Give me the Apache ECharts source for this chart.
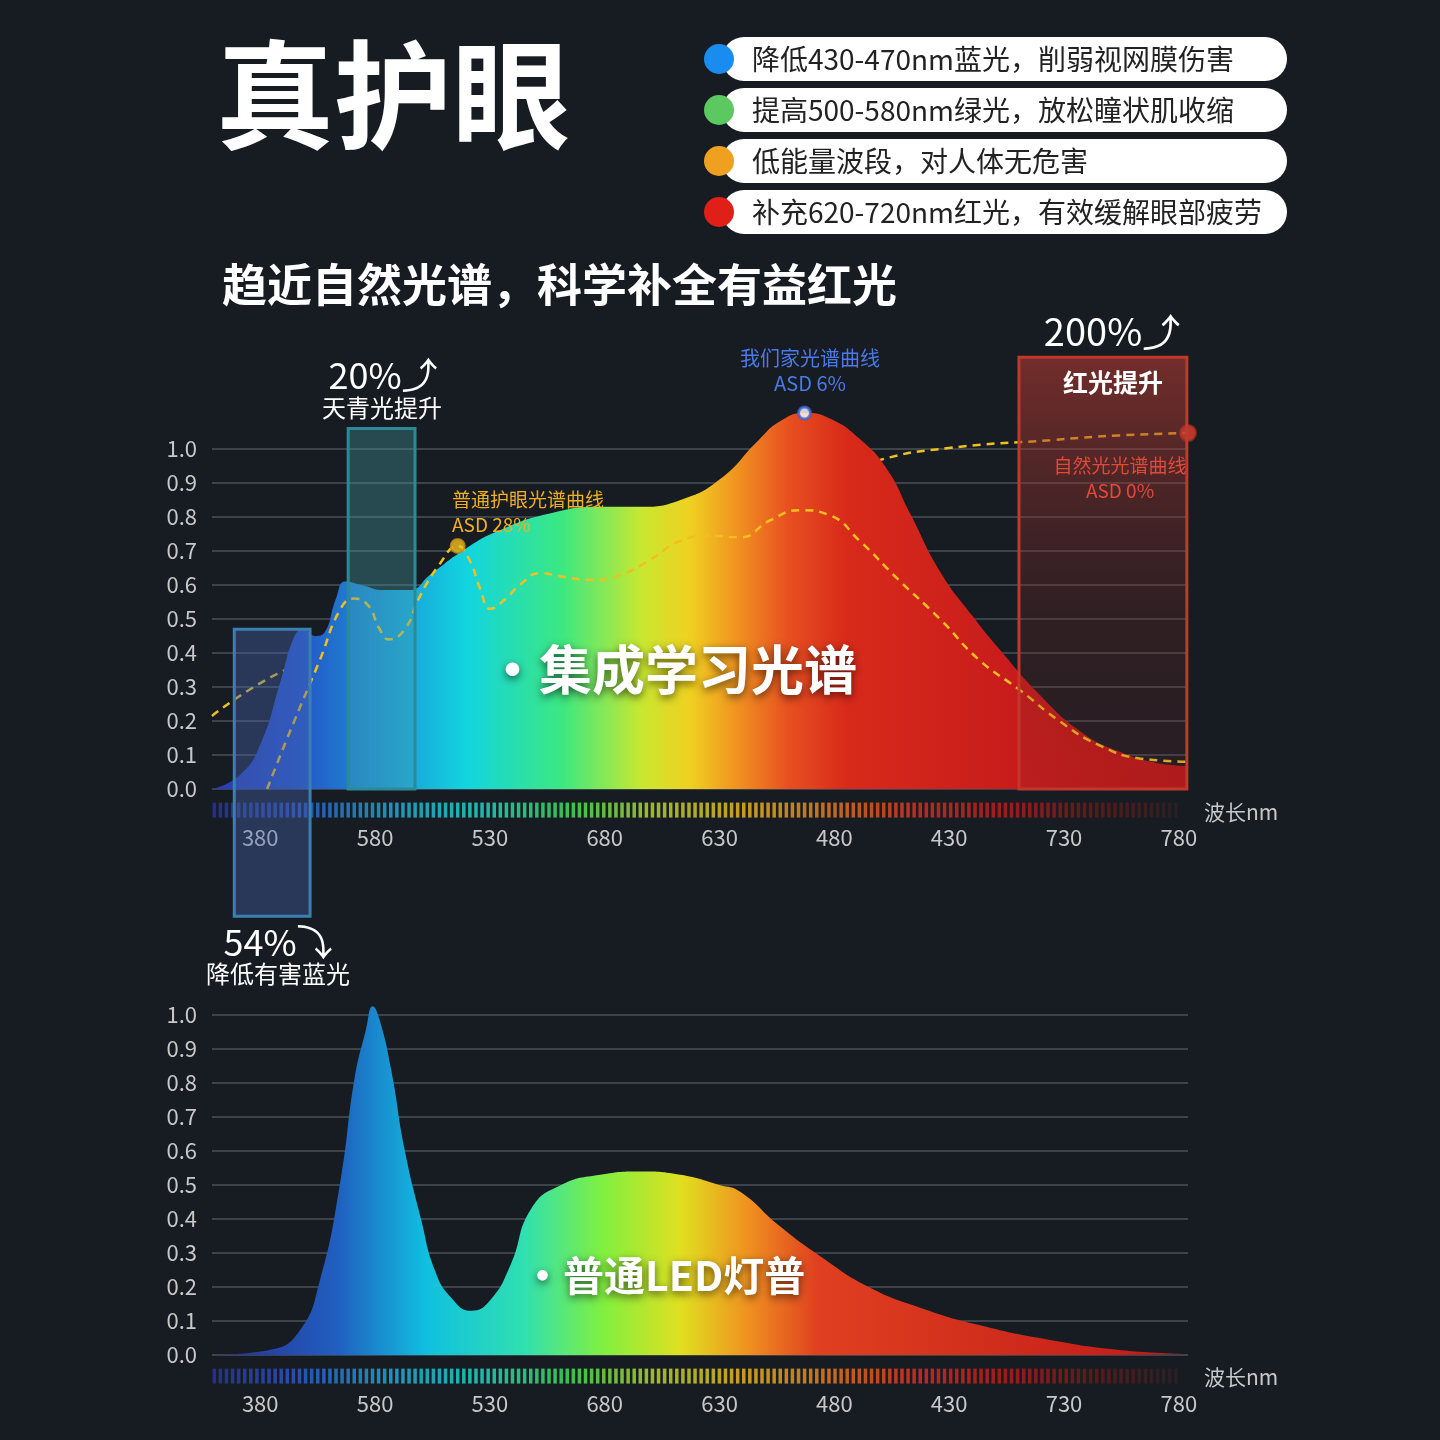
<!DOCTYPE html>
<html><head><meta charset="utf-8">
<script src="https://cdn.jsdelivr.net/npm/echarts@6/dist/echarts.min.js"></script>
<style>html,body{margin:0;background:#171c22}#c{width:1440px;height:1440px}</style>
</head><body><div id="c"></div>
<script>
// 刻度文字(图上的原样)
var tickValues = [380, 430, 480, 530, 580, 630, 680, 730, 780];
var tickLabels = ['380', '580', '530', '680', '630', '480', '430', '730', '780'];

// 我们家光谱曲线
var ourSpectrum = [[359,0],[371,0.04],[380,0.13],[389,0.32],[395,0.45],[399,0.47],[404,0.45],[408,0.46],[413,0.56],[417,0.61],
  [424,0.60],[434,0.585],[445,0.585],[454,0.63],[468,0.70],[484,0.76],[506,0.81],[528,0.83],[546,0.83],[563,0.85],[580,0.91],
  [597,1.026],[606,1.08],[617,1.106],[628,1.09],[641,1.03],[653,0.94],[663,0.81],[676,0.64],[690,0.51],[702,0.41],[719,0.28],
  [737,0.17],[754,0.11],[771,0.076],[784,0.068]];
// 普通护眼光谱曲线
var normalSpectrum = [[383,0],[393,0.17],[406,0.38],[415,0.53],[421,0.56],[427,0.54],[432,0.47],[436,0.44],[443,0.47],[449,0.56],
  [458,0.66],[466,0.715],[471,0.675],[476,0.585],[480,0.53],[487,0.56],[493,0.60],[502,0.635],[511,0.625],[524,0.615],[537,0.63],
  [550,0.675],[563,0.73],[576,0.745],[589,0.74],[602,0.79],[615,0.82],[628,0.805],[641,0.73],[658,0.615],[676,0.50],[693,0.38],
  [711,0.29],[728,0.20],[745,0.13],[763,0.09],[784,0.08]];
// 自然光光谱曲线
var naturalSpectrum = [[359,0.215],[389,0.344],[430,0.45],[480,0.6],[580,0.82],[650,0.968],[680,1.003],[724,1.026],[754,1.04],[784,1.047]];
// 普通LED灯谱
var ledSpectrum = [[359,0],[384,0.015],[397,0.07],[406,0.22],[415,0.515],[421,0.81],[426,0.956],[429,1.026],[432,0.985],[437,0.84],
  [443,0.6],[450,0.4],[456,0.25],[463,0.17],[472,0.13],[480,0.16],[489,0.265],[498,0.43],[511,0.5],[528,0.53],[546,0.54],[563,0.53],
  [580,0.5],[589,0.48],[606,0.38],[624,0.29],[645,0.2],[667,0.14],[693,0.088],[724,0.044],[754,0.015],[784,0.003]];
var ourPeak = [[617,1.106]], normalPeak = [[466,0.715]], naturalEnd = [[784,1.047]];

var legendTexts = ['降低430-470nm蓝光，削弱视网膜伤害', '提高500-580nm绿光，放松瞳状肌收缩', '低能量波段，对人体无危害', '补充620-720nm红光，有效缓解眼部疲劳'];
var legendColors = ['#1a8cf0', '#5cc860', '#f0a020', '#e02018'];

// 色带刻度
var strip = [];
for (var s = 360; s <= 781; s += 2.65) strip.push([s, -0.062]);

var font = '"Noto Sans CJK SC","Noto Sans",sans-serif';
var chart = echarts.init(document.getElementById('c'));

function grad(stops) {
  return new echarts.graphic.LinearGradient(0, 0, 1, 0, stops.map(function (s) { return { offset: s[0], color: s[1] }; }));
}
var topGrad = grad([[0,'#2b3bb0'],[0.09,'#2456c8'],[0.19,'#1a9ed8'],[0.26,'#12d4e0'],[0.36,'#3de880'],[0.44,'#c8e830'],[0.49,'#f0d020'],
  [0.54,'#f09020'],[0.59,'#e85020'],[0.65,'#d82a1a'],[0.82,'#c81c1c'],[1,'#b81818']]);
var botGrad = grad([[0,'#2a2a90'],[0.13,'#2060c0'],[0.22,'#10c0e0'],[0.32,'#30e0b0'],[0.40,'#80f040'],[0.48,'#e0e020'],
  [0.55,'#f09020'],[0.62,'#e04020'],[1,'#c01818']]);

function xAx(i) {
  return { type: 'value', gridIndex: i, min: 359, max: 784,
    axisLine: { show: false }, axisTick: { show: false }, splitLine: { show: false },
    axisLabel: { customValues: tickValues, color: '#c8c8c8', fontSize: 22, margin: 38, fontFamily: font,
      formatter: function (v) { return tickLabels[tickValues.indexOf(v)]; } } };
}
function yAx(i) {
  return { type: 'value', gridIndex: i, min: 0, max: 1, interval: 0.1,
    axisLine: { show: false }, axisTick: { show: false },
    splitLine: { lineStyle: { color: '#4a5058', width: 1.5 } },
    axisLabel: { color: '#c8c8c8', fontSize: 22, margin: 15, fontFamily: font, formatter: function (v) { return v.toFixed(1); } } };
}

var option = {
  backgroundColor: '#171c22',
  animation: false,
  grid: [{ left: 212, right: 252, top: 449, height: 340 }, { left: 212, right: 252, top: 1015, height: 340 }],
  xAxis: [xAx(0), xAx(1)],
  yAxis: [yAx(0), yAx(1)],
  visualMap: [{ show: false, type: 'continuous', seriesIndex: [6, 7], dimension: 0, min: 360, max: 781,
    inRange: { color: ['#2a35a0','#2f5fd0','#20b0e0','#20e0d0','#40e860','#c0e030','#f0c020','#f08020','#e03020','#c01c1c','#6a1a1a','#2a2226'] } }],
  series: [
    { type: 'line', data: naturalSpectrum, smooth: true, symbol: 'none', z: 1, clip: false,
      lineStyle: { color: '#f0c020', width: 2.5, type: [8, 6] } },
    { type: 'line', data: ourSpectrum, smooth: true, symbol: 'none', z: 2, clip: false,
      lineStyle: { width: 0 }, areaStyle: { color: topGrad, opacity: 1 } },
    { type: 'line', data: normalSpectrum, smooth: true, symbol: 'none', z: 3, clip: false,
      lineStyle: { color: '#f0c020', width: 2.5, type: [8, 6] } },
    { type: 'scatter', data: ourPeak, symbolSize: 12, z: 5, clip: false, itemStyle: { color: '#fff', borderColor: '#3a62d8', borderWidth: 3 } },
    { type: 'scatter', data: normalPeak, symbolSize: 14, z: 5, itemStyle: { color: '#f0c020', borderColor: '#c89010', borderWidth: 2 } },
    { type: 'scatter', data: naturalEnd, symbolSize: 16, z: 5, clip: false, itemStyle: { color: '#e04030', borderColor: '#a02818', borderWidth: 2 } },
    { type: 'scatter', data: strip, symbol: 'rect', symbolSize: [3.5, 15], clip: false, z: 1 },
    { type: 'scatter', xAxisIndex: 1, yAxisIndex: 1, data: strip, symbol: 'rect', symbolSize: [3.5, 15], clip: false, z: 1 },
    { type: 'line', xAxisIndex: 1, yAxisIndex: 1, data: ledSpectrum, smooth: true, symbol: 'none', clip: false,
      lineStyle: { width: 0 }, areaStyle: { color: botGrad, opacity: 1 } }
  ]
};
chart.setOption(option);

function px(g, x, y) { return chart.convertToPixel({ gridIndex: g }, [x, y]); }
function box(x0, x1, y0, y1, fill, stroke) {
  var a = px(0, x0, y1), b = px(0, x1, y0);
  return { type: 'rect', z: 20, shape: { x: a[0], y: a[1], width: b[0] - a[0], height: b[1] - a[1] },
    style: { fill: fill, stroke: stroke, lineWidth: 3 } };
}
function txt(x, y, t, size, color, opt) {
  opt = opt || {};
  return { type: 'text', z: 30, x: x, y: y, style: { text: t, fontSize: size, fill: color, fontFamily: font,
    fontWeight: opt.bold ? 'bold' : 'normal', textAlign: opt.align || 'left', textVerticalAlign: 'middle',
    textShadowColor: opt.shadow ? 'rgba(0,0,0,0.6)' : null, textShadowBlur: opt.shadow ? 8 : 0, textShadowOffsetY: opt.shadow ? 3 : 0 } };
}

var g = [];
g.push(box(418.3, 447.4, 0, 1.06, 'rgba(70,160,170,0.35)', '#2c8a98'));
g.push(box(368.7, 401.7, -0.374, 0.47, 'rgba(70,100,170,0.4)', '#3a80b0'));
g.push(box(710.4, 783.5, 0, 1.27, new echarts.graphic.LinearGradient(0, 0, 0, 1, [
  { offset: 0, color: 'rgba(190,60,50,0.55)' }, { offset: 0.6, color: 'rgba(120,40,40,0.25)' }, { offset: 1, color: 'rgba(120,40,40,0.15)' }]), '#c0392b'));

g.push(txt(216, 95, '真护眼', 118, '#fff', { bold: true }));
g.push(txt(222, 285, '趋近自然光谱，科学补全有益红光', 45, '#fff', { bold: true }));
legendTexts.forEach(function (t, i) {
  var y = 59 + i * 51;
  g.push({ type: 'rect', z: 10, shape: { x: 722, y: y - 22, width: 565, height: 44, r: 22 }, style: { fill: '#fff' } });
  g.push({ type: 'circle', z: 11, shape: { cx: 719, cy: y, r: 15 }, style: { fill: legendColors[i] } });
  g.push(txt(752, y, t, 28, '#222'));
});

g.push(txt(383, 375, '20%⤴', 36, '#fff', { align: 'center' }));
g.push(txt(382, 408, '天青光提升', 24, '#fff', { align: 'center' }));
g.push(txt(1112, 332, '200%⤴', 38, '#fff', { align: 'center' }));
g.push(txt(1113, 382, '红光提升', 25, '#fff', { align: 'center', bold: true }));
g.push(txt(810, 358, '我们家光谱曲线', 20, '#4a7ae8', { align: 'center' }));
g.push(txt(810, 383, 'ASD 6%', 20, '#4a7ae8', { align: 'center' }));
g.push(txt(452, 500, '普通护眼光谱曲线', 19, '#f0b020'));
g.push(txt(452, 525, 'ASD 28%', 19, '#f0b020'));
g.push(txt(1120, 466, '自然光光谱曲线', 19, '#e04a38', { align: 'center' }));
g.push(txt(1120, 491, 'ASD 0%', 19, '#e04a38', { align: 'center' }));
g.push(txt(278, 942, '54%⤵', 36, '#fff', { align: 'center' }));
g.push(txt(278, 974, '降低有害蓝光', 24, '#fff', { align: 'center' }));
g.push(txt(486, 670, '·集成学习光谱', 53, '#fff', { bold: true, shadow: true }));
g.push(txt(522, 1275, '·普通LED灯普', 41, '#fff', { bold: true, shadow: true }));
g.push(txt(1204, 812, '波长nm', 21, '#c8c8c8'));
g.push(txt(1204, 1377, '波长nm', 21, '#c8c8c8'));

chart.setOption({ graphic: g });
</script></body></html>
